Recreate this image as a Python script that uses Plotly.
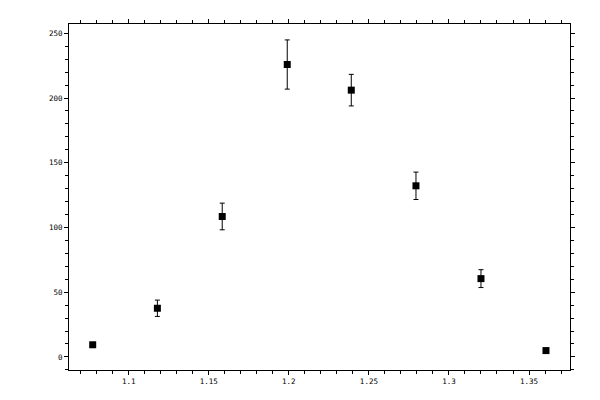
import plotly.graph_objects as go

# bin centres and counts
x_vals = [1.0775, 1.1179, 1.1584, 1.1990, 1.2390, 1.2794, 1.3200, 1.3606]
y_vals = [9.4, 37.6, 108.5, 225.9, 206.1, 132.2, 60.5, 4.9]
y_err = [0, 6.3, 10.3, 19.0, 12.2, 10.6, 6.9, 0]

x_range = [1.0627, 1.3756]
y_range = [-10.1, 257.2]

fig = go.Figure()
fig.add_trace(go.Scatter(
    x=x_vals, y=y_vals, mode='markers',
    marker=dict(symbol='square', size=7, color='black'),
    error_y=dict(type='data', array=y_err, visible=True,
                 color='black', thickness=1, width=2.5),
    showlegend=False, hoverinfo='x+y'))

tick_font = dict(family='DejaVu Sans Mono', size=7.5, color='black')

# main axes: labels, outside ticks and minor ticks
axis_common = dict(showline=True, linecolor='black', linewidth=1,
                   mirror='allticks', ticks='outside', ticklen=4,
                   tickcolor='black', tickwidth=1, showgrid=False,
                   zeroline=False, tickfont=tick_font)

# the page body adds an 8px offset, so margins are shifted to compensate
fig.update_layout(
    width=600, height=400,
    margin=dict(l=61, r=38, t=11, b=38),
    paper_bgcolor='white', plot_bgcolor='white',
    xaxis=dict(axis_common, range=x_range, dtick=0.05, tick0=1.0,
               minor=dict(dtick=0.01, ticks='outside', ticklen=3,
                          tickcolor='black')),
    yaxis=dict(axis_common, range=y_range, dtick=50, tick0=0,
               minor=dict(dtick=10, ticks='outside', ticklen=3,
                          tickcolor='black')),
    # overlay axes so the major ticks cross the frame
    xaxis2=dict(overlaying='x', range=x_range, dtick=0.05, tick0=1.0,
                ticks='inside', ticklen=4, tickcolor='black',
                mirror='allticks', showline=False, showgrid=False,
                zeroline=False, showticklabels=False),
    yaxis2=dict(overlaying='y', range=y_range, dtick=50, tick0=0,
                ticks='inside', ticklen=4, tickcolor='black',
                mirror='allticks', showline=False, showgrid=False,
                zeroline=False, showticklabels=False),
)

fig.write_html("out.html")
